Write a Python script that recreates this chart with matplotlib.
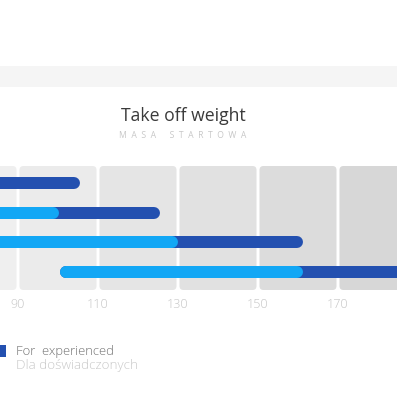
import numpy as np
import matplotlib.pyplot as plt
from matplotlib.patches import FancyBboxPatch, Rectangle

# ~~~ data ~~~
ticks = [90, 110, 130, 150, 170]
row_start = [75, 75, 75, 100.5]
beginner_end = [86, 100.25, 130, 161.25]
experienced_end = [105.5, 125.5, 161.25, 192]
panel_edges = [70, 90, 110, 130, 150, 170, 190]
panel_colors = ['#efefef', '#ebebeb', '#e5e5e5', '#e1e1e1', '#dcdcdc', '#d7d7d7']

light_blue = '#12a7f5'
dark_blue = '#2350b0'
font = 'Open Sans'

W = H = 397
fig = plt.figure(figsize=(W / 100, H / 100), dpi=100)
fig.patch.set_facecolor('white')

# top grey band
fig.add_artist(Rectangle((0, 1 - 87 / H), 1, 21 / H, transform=fig.transFigure,
                         facecolor='#f5f5f5', edgecolor='none'))

# main axes covers the panel area
ax = fig.add_axes([0, (H - 290) / H, 1, 124 / H])
px_per_unit = 4.0
ax.set_xlim(90 - 18 / px_per_unit, 90 + (W - 18) / px_per_unit)
row_gap = 29.67
ax.set_ylim(3 + 18 / row_gap, -17 / row_gap)
ax.axis('off')

# background panels between ticks
gap = 1.5 / px_per_unit
ylo, yhi = ax.get_ylim()
for i in range(len(panel_edges) - 1):
    x0 = panel_edges[i] + gap
    x1 = panel_edges[i + 1] - gap
    p = FancyBboxPatch((x0, yhi), x1 - x0, ylo - yhi,
                       boxstyle='round,pad=0,rounding_size=1.0',
                       mutation_aspect=px_per_unit / row_gap,
                       facecolor=panel_colors[i], edgecolor='none', zorder=0)
    ax.add_patch(p)

# bars with round caps
lw_px = 12
cap = (lw_px / 2) / px_per_unit
lw_pt = lw_px * 72 / 100
for r in range(4):
    ax.plot([row_start[r] + cap, experienced_end[r] - cap], [r, r], color=dark_blue,
            lw=lw_pt, solid_capstyle='round', zorder=2)
    ax.plot([row_start[r] + cap, beginner_end[r] - cap], [r, r], color=light_blue,
            lw=lw_pt, solid_capstyle='round', zorder=3)

# tick labels
for t in ticks:
    ax.text(t, ylo + 15 / row_gap, str(t), ha='center', va='center',
            fontsize=9, color='#c4c4c4', family=font, weight='light')

# titles
fig.text(183 / W, 1 - 116 / H, 'Take off weight', ha='center', va='center',
         fontsize=12.7, color='#3a3a3a', family=font)
fig.text(183 / W, 1 - 136 / H, '  '.join('MASA STARTOWA').replace('     ', '      '),
         ha='center', va='center', fontsize=6.2, color='#c8c8c8', family=font)

# legend
fig.add_artist(Rectangle((-2 / W, 1 - 357 / H), 8 / W, 12 / H, transform=fig.transFigure,
                         facecolor=dark_blue, edgecolor='none'))
fig.text(16 / W, 1 - 351 / H, 'For  experienced', ha='left', va='center',
         fontsize=9.4, color='#707070', family=font, weight='light')
fig.text(16 / W, 1 - 366 / H, 'Dla doświadczonych', ha='left', va='center',
         fontsize=9.6, color='#c8c8c8', family=font, weight='light')

fig.savefig('out.png', dpi=100, facecolor='white')
